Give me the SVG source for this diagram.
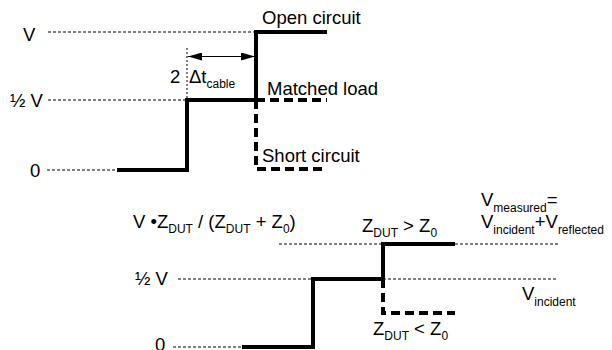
<svg xmlns="http://www.w3.org/2000/svg" width="612" height="350" viewBox="0 0 612 350">
<defs>
<style>
text{font-family:"Liberation Sans",Arial,sans-serif;font-size:18.5px;fill:#000}
.sub{font-size:12px}
.ref{stroke:#000;stroke-width:1;stroke-dasharray:3 2;fill:none}
.trace{stroke:#000;stroke-width:4;fill:none;stroke-linejoin:miter;stroke-linecap:butt}
.dtrace{stroke:#000;stroke-width:4;fill:none;stroke-dasharray:9 5}
.dot{stroke:#000;stroke-width:1;stroke-dasharray:2 2;fill:none}
</style>
<marker id="ah" viewBox="0 0 14 8" refX="14" refY="4" markerWidth="14" markerHeight="8" markerUnits="userSpaceOnUse" orient="auto-start-reverse">
<path d="M0,0 L14,4 L0,8 Z" fill="#000"/>
</marker>
</defs>
<rect width="612" height="350" fill="#fff"/>

<g id="top-plot">
<g id="top-axis-labels">
<text x="23" y="41">V</text>
<text x="10" y="107">½ V</text>
<text x="30" y="177">0</text>
</g>
<g id="top-reference-lines">
<line class="ref" x1="48" y1="32" x2="256" y2="32"/>
<line class="ref" x1="48" y1="100" x2="187" y2="100"/>
<line class="ref" x1="47" y1="170" x2="117" y2="170"/>
<line class="dot" x1="187" y1="48" x2="187" y2="100"/>
</g>
<g id="open-circuit">
<path class="trace" d="M117,170 H187 V100 H256 V32 H327"/>
<text x="262" y="24">Open circuit</text>
</g>
<g id="matched-load">
<path class="dtrace" d="M256,100 H327"/>
<text x="267" y="95">Matched load</text>
</g>
<g id="short-circuit">
<path class="dtrace" d="M256,100 V169 H327"/>
<text x="262" y="162">Short circuit</text>
</g>
<g id="delay">
<line x1="188" y1="56.5" x2="255" y2="56.5" stroke="#000" stroke-width="1.2" marker-start="url(#ah)" marker-end="url(#ah)"/>
<text x="170" y="83">2</text>
<text x="189" y="83">Δt<tspan class="sub" dy="5">cable</tspan></text>
</g>
</g>

<g id="bottom-plot">
<g id="bottom-axis-labels">
<text x="133" y="228">V •Z<tspan class="sub" dy="5">DUT</tspan><tspan dy="-5"> / (Z</tspan><tspan class="sub" dy="5">DUT</tspan><tspan dy="-5"> + Z</tspan><tspan class="sub" dy="5">0</tspan><tspan dy="-5">)</tspan></text>
<text x="135" y="285">½ V</text>
<text x="155" y="351">0</text>
</g>
<g id="bottom-reference-lines">
<line class="ref" x1="279" y1="244" x2="383" y2="244"/>
<line class="ref" x1="455" y1="244" x2="558" y2="244"/>
<line class="ref" x1="178" y1="279" x2="313" y2="279"/>
<line class="ref" x1="383" y1="279" x2="558" y2="279"/>
<line class="ref" x1="173" y1="347" x2="242" y2="347"/>
</g>
<g id="high-impedance">
<path class="trace" d="M242,347 H313 V279 H383 V244 H455"/>
<text x="362" y="232">Z<tspan class="sub" dy="5">DUT</tspan><tspan dy="-5"> &gt; Z</tspan><tspan class="sub" dy="5">0</tspan></text>
</g>
<g id="low-impedance">
<path class="dtrace" d="M383,279 V313 H455"/>
<text x="373" y="335">Z<tspan class="sub" dy="5">DUT</tspan><tspan dy="-5"> &lt; Z</tspan><tspan class="sub" dy="5">0</tspan></text>
</g>
<g id="measured-label">
<text x="481" y="206">V<tspan class="sub" dy="6">measured</tspan><tspan dy="-6">=</tspan></text>
<text x="481" y="228">V<tspan class="sub" dy="6">incident</tspan><tspan dy="-6">+V</tspan><tspan class="sub" dy="6">reflected</tspan></text>
</g>
<g id="incident-label">
<text x="522" y="300">V<tspan class="sub" dy="6">incident</tspan></text>
</g>
</g>
</svg>
